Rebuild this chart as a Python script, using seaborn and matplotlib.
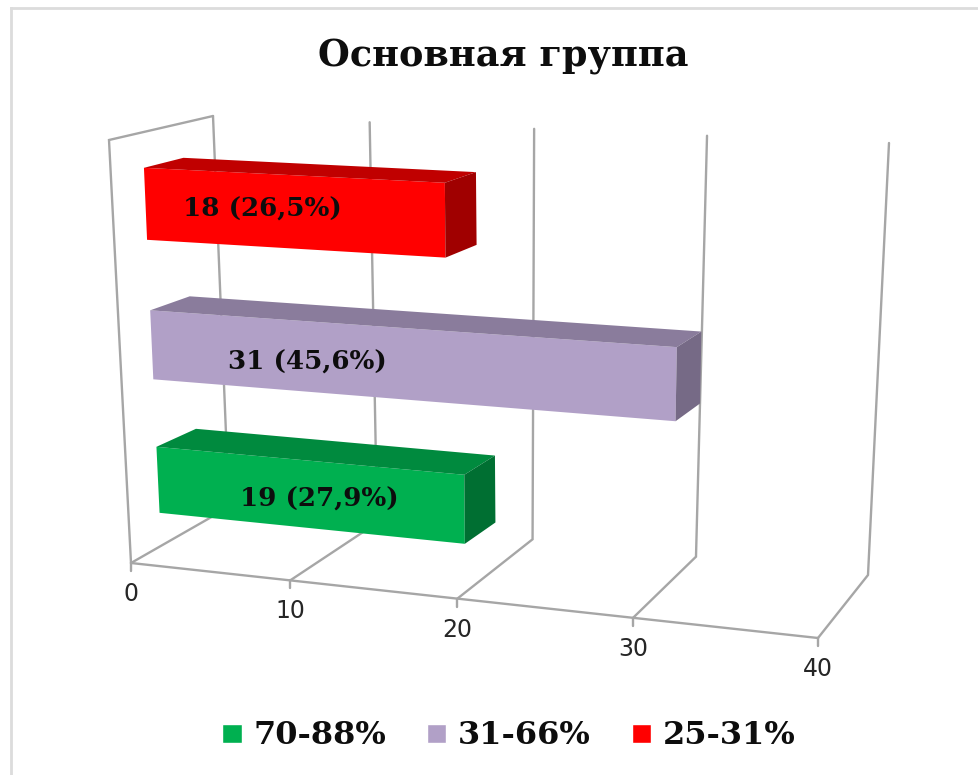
import numpy as np
import pandas as pd
import matplotlib
matplotlib.use("Agg")
import matplotlib.pyplot as plt
import matplotlib.transforms as mtransforms
from matplotlib.lines import Line2D
from matplotlib.patches import Polygon
import seaborn as sns

# ---- data ----
groups = ["70-88%", "31-66%", "25-31%"]
counts = [19, 31, 18]
value_labels = ["19 (27,9%)", "31 (45,6%)", "18 (26,5%)"]
title = "Основная группа"
axis_ticks = [0, 10, 20, 30, 40]

# ---- style ----
front_colors = ["#00B050", "#B1A0C7", "#FF0000"]
top_colors = ["#008A3E", "#8A7C9C", "#C00000"]
side_colors = ["#006F32", "#766A86", "#A00000"]
label_at = [10.2, 9.7, 7.2]
label_shift = [-0.03, -0.035, 0.01]
GRID = "#A6A6A6"
W, H = 979, 775
AXMAX = 40.0
BAR = 0.5
SERIF = "DejaVu Serif"


def tfrac(v):
    """Perspective-foreshortened share of the value axis."""
    f = np.asarray(v, dtype=float) / AXMAX
    return f / (1 + 0.105 * (1 - f))


def bar_px(v, c, d=0.0):
    """Value, category position and depth (0 front, 1 back) to image pixels."""
    v, c = np.asarray(v, float), np.asarray(c, float)
    t = tfrac(v)
    lx, ly = 158 - 6.25 * c, 480 - 138 * c
    rx, ry = 839 + 5.45 * c, 545.5 - 151.5 * c
    x = lx + t * (rx - lx)
    y = ly + t * (ry - ly) + 3 * (1 - (c - 1) ** 2)
    x = x + d * 39.5 * (1 - 0.5 * t)
    y = y - d * (19 - 4.0 * c) * (1 + 0.15 * t)
    return x, y


def to_display(x, y):
    return np.column_stack([np.ravel(x), H - np.ravel(y)])


class BarPlane(mtransforms.Transform):
    input_dims = 2
    output_dims = 2
    is_separable = False
    has_inverse = False

    def transform_non_affine(self, values):
        values = np.asarray(values, float)
        return to_display(*bar_px(values[:, 0], values[:, 1]))


def lerp(a, b, t):
    return (a[0] + (b[0] - a[0]) * t, a[1] + (b[1] - a[1]) * t)


def room(v):
    """Floor front, floor back and wall top points of one value gridline."""
    t = tfrac(v)
    return (lerp((131, 563), (818, 638), t),
            lerp((229, 507), (868, 575), t),
            lerp((213, 116), (889, 143), t))


sns.set_theme(style="white")
fig = plt.figure(figsize=(W / 100, H / 100), dpi=100, facecolor="white")
ax = fig.add_axes([0, 0, 1, 1])

df = pd.DataFrame({"group": groups, "count": counts})
sns.barplot(data=df, x="count", y="group", hue="group", order=groups,
            hue_order=groups, palette=front_colors, width=BAR, orient="h",
            dodge=False, legend=True, ax=ax, saturation=1)

identity = mtransforms.IdentityTransform()
plane = BarPlane()
LW = 1.7

# walls and floor
for v in axis_ticks:
    f, b, t = room(v)
    ax.plot(*to_display([f[0], b[0], t[0]], [f[1], b[1], t[1]]).T,
            color=GRID, lw=LW, transform=identity, zorder=1,
            solid_joinstyle="miter")
    ax.plot(*to_display([f[0], f[0]], [f[1], f[1] + 8]).T,
            color=GRID, lw=LW, transform=identity, zorder=1)
    ax.text(f[0], H - (f[1] + 31), str(v), transform=identity, ha="center",
            va="center", fontsize=17, color="#262626",
            family="DejaVu Sans", zorder=5)
f0, b0, t0 = room(0)
f4, b4, t4 = room(40)
corner = (109, 140)
ax.plot(*to_display([f0[0], corner[0], t0[0]], [f0[1], corner[1], t0[1]]).T,
        color=GRID, lw=LW, transform=identity, zorder=1,
        solid_joinstyle="miter")
ax.plot(*to_display([f0[0], f4[0]], [f0[1], f4[1]]).T,
        color=GRID, lw=LW, transform=identity, zorder=1)

# bars: seaborn's rectangles are drawn on the skewed plane, then given depth
bars = [p for cont in ax.containers for p in cont if p.get_width() > 0]
for i, patch in enumerate(bars):
    v = patch.get_x() + patch.get_width()
    lo, hi = patch.get_y(), patch.get_y() + patch.get_height()
    c = (lo + hi) / 2
    patch.set_transform(plane)
    patch.set_zorder(3)
    patch.set_edgecolor("none")
    top = [bar_px(0, hi), bar_px(v, hi), bar_px(v, hi, 1), bar_px(0, hi, 1)]
    side = [bar_px(v, hi), bar_px(v, hi, 1), bar_px(v, lo, 1), bar_px(v, lo)]
    for pts, col in ((top, top_colors[i]), (side, side_colors[i])):
        ax.add_patch(Polygon(to_display(*zip(*pts)), closed=True, facecolor=col,
                             edgecolor="none", transform=identity, zorder=3))
    ax.text(label_at[i], c + label_shift[i], value_labels[i], transform=plane,
            ha="center", va="center", fontsize=18.8, fontweight="bold",
            family=SERIF, color="#0D0D0D", zorder=6)

ax.set_xlim(0, AXMAX)
ax.set_axis_off()

# legend from seaborn's hue handles
handles, labels = ax.get_legend_handles_labels()
old = ax.get_legend()
if old is not None:
    old.remove()
fig.legend(handles, labels, loc="center", bbox_to_anchor=(509 / W, 1 - 736 / H),
           ncol=3, frameon=False, handlelength=0.6, handleheight=0.53,
           handletextpad=0.36, columnspacing=1.3,
           prop={"family": SERIF, "weight": "bold", "size": 23},
           labelcolor="#0D0D0D", borderpad=0, borderaxespad=0)

fig.text(503 / W, 1 - 57 / H, title, ha="center", va="center", fontsize=26.4,
         fontweight="bold", family=SERIF, color="#0D0D0D")

# outer frame of the picture
for xs, ys in (([11, 11], [H, 8]), ([11, W], [8, 8])):
    fig.add_artist(Line2D(np.array(xs) / W, 1 - np.array(ys) / H,
                          color="#DCDCDC", lw=2, transform=fig.transFigure,
                          solid_capstyle="projecting"))

fig.savefig("out.png", dpi=100, facecolor="white")
